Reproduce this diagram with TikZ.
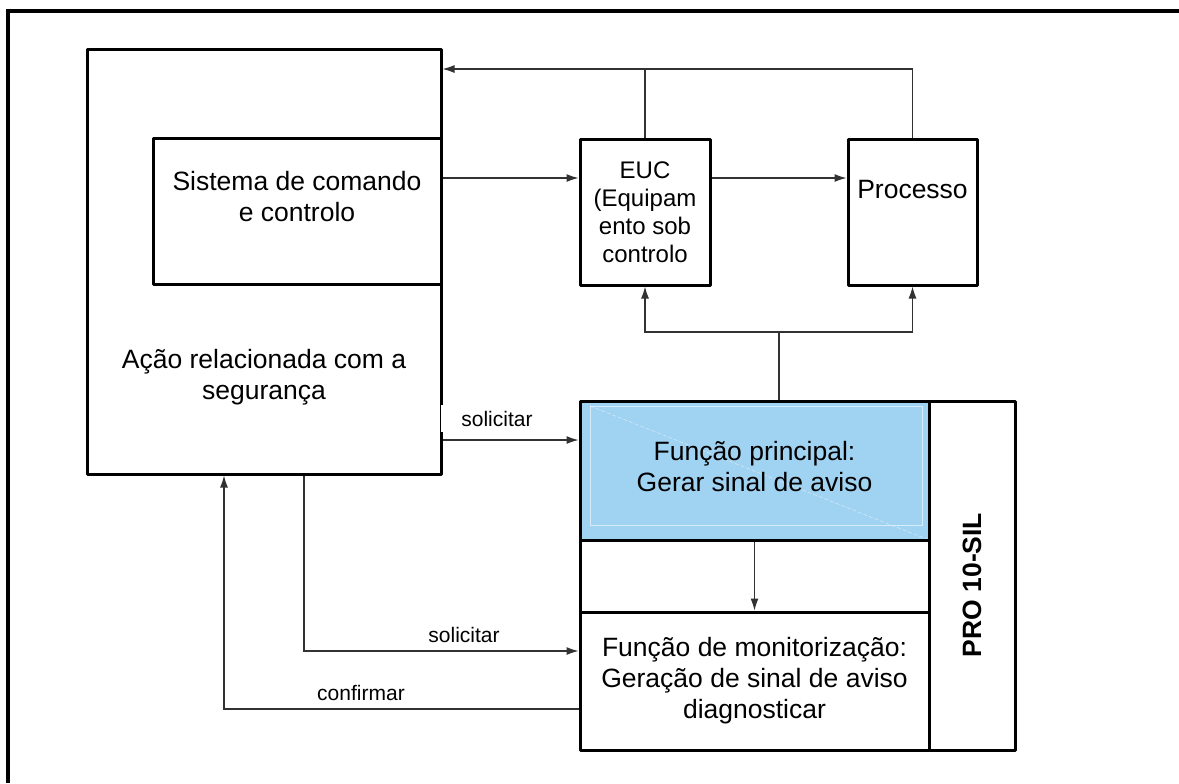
\documentclass[tikz,border=0pt]{standalone}
\usepackage{fontspec}
\setmainfont{Liberation Sans}
\usetikzlibrary{arrows.meta}
\definecolor{boxblue}{RGB}{160,210,242}
\definecolor{innerblue}{RGB}{215,236,250}
\definecolor{connc}{RGB}{50,50,50}
\begin{document}
\begin{tikzpicture}[x=0.5pt,y=-0.5pt,
  box/.style={draw=black, line width=1.5pt, line join=round, rectangle, inner sep=0pt},
  conn/.style={draw=connc, line width=0.55pt},
  arr/.style={conn, -{Latex[length=6pt,width=4pt]}},
  big/.style={font=\fontsize{13.25}{15.5}\selectfont, align=center},
  small/.style={font=\fontsize{10.5}{12}\selectfont, inner sep=0pt},
]
\useasboundingbox (0,0) rectangle (1179,783);
\draw[line width=1.6pt] (8,783) -- (8,11) -- (1179,11);

% boxes
\node[box, minimum width=177pt, minimum height=212.5pt] (safety) at (264,261.5) {};
\node[box, minimum width=144pt, minimum height=73pt] (scs) at (297,211) {};
\node[big] (scstext) at (297,197) {Sistema de comando\\e controlo};
\node[big] (safetytext) at (264,377) {Ação relacionada com a\\segurança};
\node[box, minimum width=65pt, minimum height=73pt, align=center,
      font=\fontsize{12}{14}\selectfont] (euc) at (645,212) {EUC\\(Equipam\\ento sob\\controlo};
\node[box, minimum width=64.5pt, minimum height=73pt] (proc) at (912.5,212) {};
\node[big] (proctext) at (912.5,190) {Processo};

\node[box, fill=boxblue, minimum width=174.5pt, minimum height=69.5pt] (main) at (754.5,470.5) {};
\draw[innerblue, line width=0.5pt] (590,406) rectangle (922,525);
\draw[white, opacity=0.5, line width=0.3pt, dash pattern=on 2pt off 1pt] (590,406) -- (929,540);
\node[big] (maintext) at (754.5,467) {Função principal:\\Gerar sinal de aviso};
\node[box, minimum width=174.5pt, minimum height=36pt] (gapbox) at (754.5,576) {};
\node[box, big, minimum width=174.5pt, minimum height=69pt] (mon) at (754.5,681)
  {Função de monitorização:\\Geração de sinal de aviso\\diagnosticar};
\node[box, minimum width=43pt, minimum height=174.5pt] (pro) at (972,575.5) {};
\node[font=\fontsize{13.25}{15.5}\selectfont\bfseries, rotate=90] (protext) at (972,585) {PRO 10-SIL};

% helper coordinates
\coordinate (ytop) at (0,69);
\coordinate (y1) at (0,178);
\coordinate (bj) at (779,332);
\coordinate (y3) at (0,440);
\coordinate (x4) at (304,0);
\coordinate (y4) at (0,651);
\coordinate (x5) at (224,0);
\coordinate (y5) at (0,709);

% connectors
\draw[conn] (proc.north) |- (euc.north |- ytop);
\draw[arr] (euc.north) |- (safety.east |- ytop);
\draw[arr] (scs.east |- y1) -- (euc.west |- y1);
\draw[arr] (euc.east |- y1) -- (proc.west |- y1);
\draw[conn] (main.north -| bj) -- (bj);
\draw[arr] (bj) -| (euc.south);
\draw[arr] (bj) -| (proc.south);
\draw[arr] (safety.east |- y3) -- (main.west |- y3);
\draw[arr] (main.south) -- (mon.north);
\draw[arr] (safety.south -| x4) |- (mon.west |- y4);
\draw[arr] (mon.west |- y5) -| (safety.south -| x5);

% labels
\node[small, fill=white, minimum width=56pt, minimum height=13.5pt] (sol1) at (497,418.5) {solicitar};
\node[small] (sol2) at (464,635) {solicitar};
\node[small] (conf) at (361,693) {confirmar};
\end{tikzpicture}
\end{document}
